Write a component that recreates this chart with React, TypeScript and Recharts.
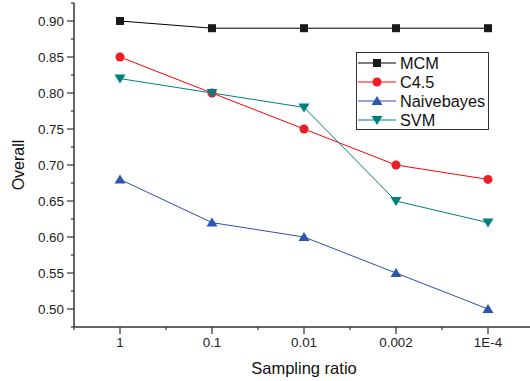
import React from 'react';
import { LineChart, Line, XAxis, YAxis } from 'recharts';

const categories = ['1', '0.1', '0.01', '0.002', '1E-4'];
const mcm = [0.9, 0.89, 0.89, 0.89, 0.89];
const c45 = [0.85, 0.8, 0.75, 0.7, 0.68];
const naive = [0.68, 0.62, 0.6, 0.55, 0.5];
const svm = [0.82, 0.8, 0.78, 0.65, 0.62];

const yTicks = [
  0.475, 0.5, 0.525, 0.55, 0.575, 0.6, 0.625, 0.65, 0.675, 0.7,
  0.725, 0.75, 0.775, 0.8, 0.825, 0.85, 0.875, 0.9, 0.925,
];
const xTicks = [-0.5, 0, 0.5, 1, 1.5, 2, 2.5, 3, 3.5, 4, 4.5];

const SERIES = [
  { key: 'MCM', values: mcm, color: '#000000', fill: '#1a1a1a', shape: 'square' },
  { key: 'C4.5', values: c45, color: '#ff0000', fill: '#ee1c25', shape: 'circle' },
  { key: 'Naivebayes', values: naive, color: '#2b4fae', fill: '#2b56b2', shape: 'up' },
  { key: 'SVM', values: svm, color: '#008080', fill: '#007f7f', shape: 'down' },
];

const data = categories.map((c, i) => {
  const row: any = { idx: i, label: c };
  SERIES.forEach(s => { row[s.key] = s.values[i]; });
  return row;
});

const FONT = '"Liberation Sans", Arial, sans-serif';

function Marker({ shape, cx, cy, fill }: any) {
  if (cx == null || cy == null) return null;
  if (shape === 'square') return <rect x={cx - 4} y={cy - 4} width={8} height={8} fill={fill} />;
  if (shape === 'circle') return <circle cx={cx} cy={cy} r={4.5} fill={fill} />;
  if (shape === 'up') return <polygon points={`${cx},${cy - 5} ${cx - 5.5},${cy + 4} ${cx + 5.5},${cy + 4}`} fill={fill} />;
  return <polygon points={`${cx},${cy + 5} ${cx - 5.5},${cy - 4} ${cx + 5.5},${cy - 4}`} fill={fill} />;
}

const YTick = (props: any) => {
  const { x, y, payload } = props;
  const v = payload.value;
  const major = Math.abs(v * 20 - Math.round(v * 20)) < 1e-6;
  return (
    <g>
      <line x1={x} x2={x - (major ? 7 : 3)} y1={y} y2={y} stroke="#333" strokeWidth={1.2} />
      {major && (
        <text x={x - 10} y={y} dy={4.5} textAnchor="end" fontSize={13.4} fill="#222" fontFamily={FONT}>
          {v.toFixed(2)}
        </text>
      )}
    </g>
  );
};

const XTick = (props: any) => {
  const { x, y, payload } = props;
  const v = payload.value;
  const major = Number.isInteger(v);
  return (
    <g>
      <line x1={x} x2={x} y1={y} y2={y + (major ? 7 : 3)} stroke="#333" strokeWidth={1.2} />
      {major && (
        <text x={x} y={y + 20} textAnchor="middle" fontSize={13.4} fill="#222" fontFamily={FONT}>
          {categories[v]}
        </text>
      )}
    </g>
  );
};

const LegendBox = () => (
  <svg width={134} height={79} style={{ display: 'block' }}>
    <rect x={0.5} y={0.5} width={132} height={77} fill="#fff" stroke="#333" strokeWidth={1} />
    {SERIES.map((s, i) => {
      const cy = 11 + i * 19;
      return (
        <g key={s.key}>
          <line x1={2} x2={40} y1={cy} y2={cy} stroke={s.color} strokeWidth={1} />
          <Marker shape={s.shape} cx={21} cy={cy} fill={s.fill} />
          <text x={44} y={cy} dy={6} fontSize={16.3} fill="#111" fontFamily={FONT}>{s.key}</text>
        </g>
      );
    })}
  </svg>
);

export default function App() {
  return (
    <div style={{ position: 'absolute', left: 0, top: 0, width: 530, height: 381, overflow: 'hidden', background: '#fff' }}>
      <LineChart width={540} height={381} data={data} margin={{ top: 3, right: 6, bottom: 0, left: 0 }}>
        <XAxis
          dataKey="idx"
          type="number"
          domain={[-0.5, 4.5]}
          ticks={xTicks}
          interval={0}
          tickSize={0}
          tickMargin={0}
          tickLine={false}
          axisLine={{ stroke: '#333', strokeWidth: 1.5 }}
          tick={<XTick />}
          height={54}
          label={{ value: 'Sampling ratio', position: 'insideBottom', offset: 7, fontSize: 16.5, fill: '#111', fontFamily: FONT }}
        />
        <YAxis
          type="number"
          domain={[0.475, 0.925]}
          ticks={yTicks}
          interval={0}
          width={74}
          tickSize={0}
          tickMargin={0}
          tickLine={false}
          axisLine={{ stroke: '#333', strokeWidth: 1.5 }}
          tick={<YTick />}
          label={{ value: 'Overall', angle: -90, position: 'insideLeft', offset: 18, fontSize: 16, fill: '#111', fontFamily: FONT, style: { textAnchor: 'middle' } }}
        />
        {SERIES.map(s => (
          <Line
            key={s.key}
            dataKey={s.key}
            type="linear"
            stroke={s.color}
            strokeWidth={1}
            isAnimationActive={false}
            dot={(p: any) => <Marker key={`${s.key}-${p.index}`} shape={s.shape} cx={p.cx} cy={p.cy} fill={s.fill} />}
            activeDot={false}
          />
        ))}
      </LineChart>
      <div style={{ position: 'absolute', left: 356, top: 52 }}>
        <LegendBox />
      </div>
    </div>
  );
}
